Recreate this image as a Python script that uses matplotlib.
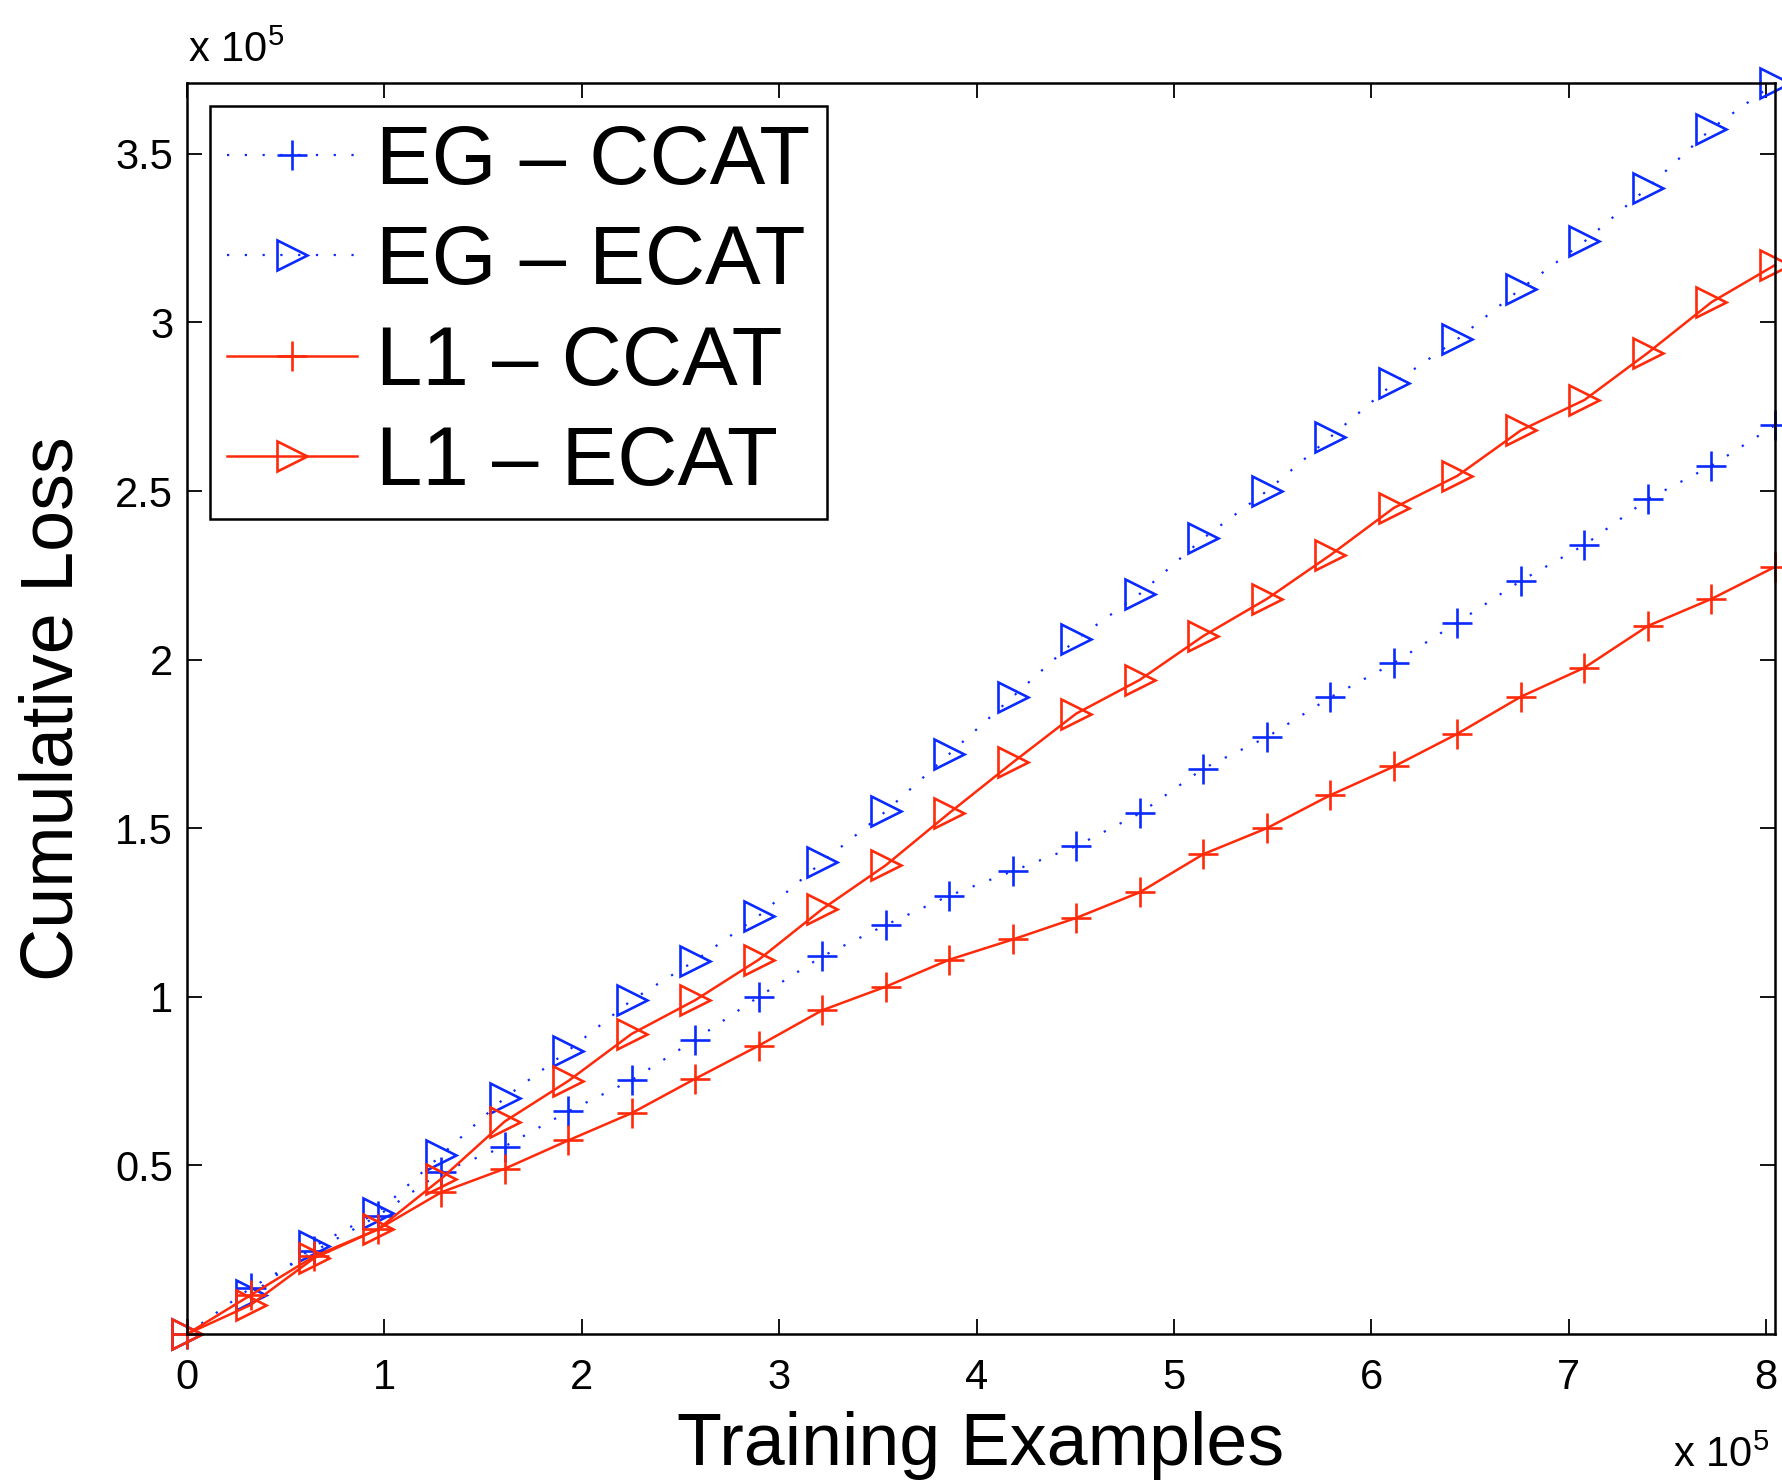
import numpy as np
import matplotlib
matplotlib.use("Agg")
import matplotlib.pyplot as plt

plt.rcParams['font.family'] = ['Liberation Sans', 'DejaVu Sans']
plt.rcParams['mathtext.fontset'] = 'custom'
plt.rcParams['mathtext.rm'] = 'Liberation Sans'
plt.rcParams['mathtext.it'] = 'Liberation Sans'

# x: training examples (units of 1e5), 26 checkpoints over 804,414 docs
n_total = 8.04414
x = np.arange(26) * n_total / 25

eg_ccat = [0, 0.136, 0.245, 0.35, 0.48, 0.556, 0.66, 0.753, 0.873, 1.0, 1.12, 1.213,
           1.30, 1.373, 1.447, 1.544, 1.677, 1.77, 1.888, 1.99, 2.11, 2.234, 2.34,
           2.476, 2.575, 2.695]
eg_ecat = [0, 0.115, 0.26, 0.36, 0.53, 0.70, 0.84, 0.99, 1.107, 1.24, 1.40, 1.55,
           1.72, 1.89, 2.06, 2.195, 2.36, 2.50, 2.66, 2.82, 2.95, 3.10, 3.24, 3.40,
           3.575, 3.71]
l1_ccat = [0, 0.115, 0.23, 0.31, 0.42, 0.49, 0.574, 0.655, 0.757, 0.855, 0.96, 1.03,
           1.11, 1.17, 1.234, 1.31, 1.423, 1.50, 1.598, 1.683, 1.78, 1.89, 1.976,
           2.10, 2.18, 2.275]
l1_ecat = [0, 0.086, 0.225, 0.31, 0.46, 0.63, 0.75, 0.89, 0.99, 1.11, 1.26, 1.39,
           1.545, 1.695, 1.84, 1.94, 2.07, 2.18, 2.31, 2.45, 2.545, 2.68, 2.77,
           2.91, 3.06, 3.17]

labels = ['EG – CCAT', 'EG – ECAT', 'L1 – CCAT', 'L1 – ECAT']
xticks = [0, 1, 2, 3, 4, 5, 6, 7, 8]
yticks = [0.5, 1, 1.5, 2, 2.5, 3, 3.5]

blue = '#0a2aff'
red = '#ff2a0a'

fig = plt.figure(figsize=(17.82, 14.80), dpi=100)
ax = fig.add_axes([187/1782, 1 - 1334/1480, (1775-187)/1782, (1334-83)/1480])

dots = (0, (1, 7))
ms = 21
ax.plot(x, eg_ccat, color=blue, linestyle=dots, lw=1.6, marker='+', ms=ms, mew=1.9,
        label=labels[0], clip_on=False)
ax.plot(x, eg_ecat, color=blue, linestyle=dots, lw=1.6, marker='>', ms=ms, mew=1.9,
        mfc='none', label=labels[1], clip_on=False)
ax.plot(x, l1_ccat, color=red, linestyle='-', lw=1.8, marker='+', ms=ms, mew=1.9,
        label=labels[2], clip_on=False)
ax.plot(x, l1_ecat, color=red, linestyle='-', lw=1.8, marker='>', ms=ms, mew=1.9,
        mfc='none', label=labels[3], clip_on=False)

ax.set_xlim(0, n_total)
ax.set_ylim(0, 3.71)
ax.set_xticks(xticks)
ax.set_xticklabels([str(t) for t in xticks])
ax.set_yticks(yticks)
ax.set_yticklabels(['0.5', '1', '1.5', '2', '2.5', '3', '3.5'])

ax.tick_params(axis='both', direction='in', length=11, width=1.3, labelsize=30,
               top=True, right=True)
ax.tick_params(axis='x', pad=17)
ax.tick_params(axis='y', pad=10)
for s in ax.spines.values():
    s.set_linewidth(1.8)

ax.set_xlabel('Training Examples', fontsize=53, labelpad=10)
ax.set_ylabel('Cumulative Loss', fontsize=53, labelpad=20)

fig.text(188/1782, 1 - 62/1480, r'x 10$^{5}$', fontsize=30, ha='left', va='baseline')
fig.text(1673/1782, 1 - 1467/1480, r'x 10$^{5}$', fontsize=30, ha='left', va='baseline')

leg = ax.legend(loc='upper left', fontsize=60, frameon=True, fancybox=False,
                edgecolor='black', framealpha=1, borderaxespad=0.28, borderpad=0.2,
                labelspacing=0.27, handlelength=1.56, handletextpad=0.23)
leg.get_frame().set_linewidth(1.8)

fig.savefig('out.png', dpi=100)
